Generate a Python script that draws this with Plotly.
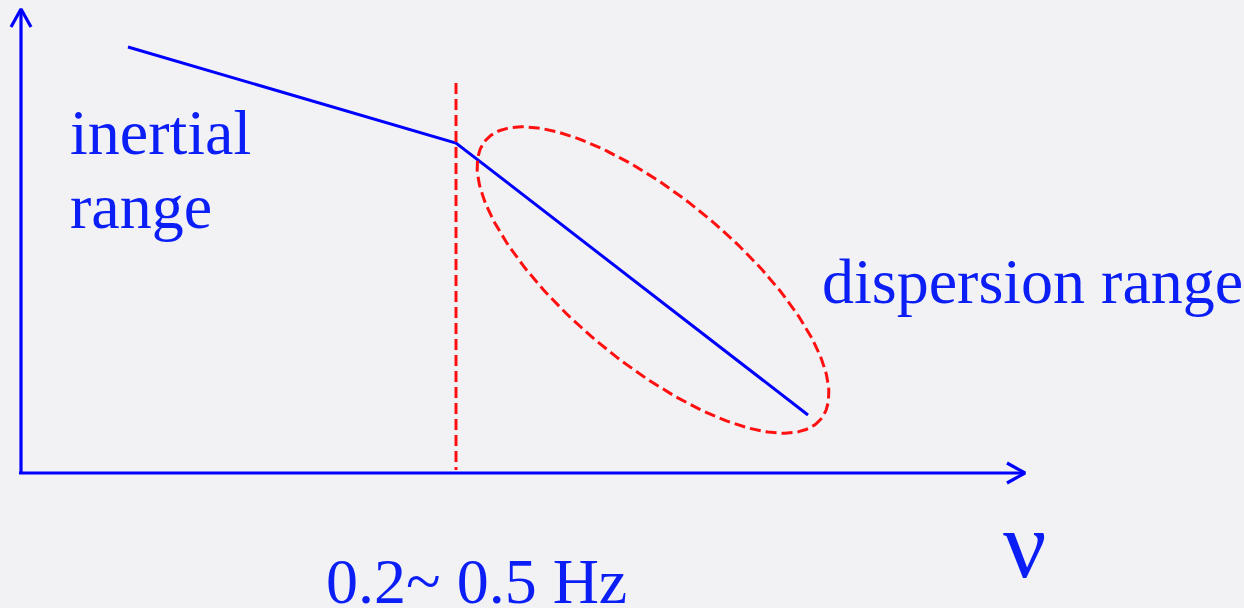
import numpy as np
import plotly.graph_objects as go

W, H = 1244, 608
BLUE = "#0a1ef5"
LINE_BLUE = "#0000ff"
RED = "#ff1010"
BG = "#f2f2f5"
FONT = "Liberation Serif, Times New Roman, serif"

# Power spectrum sketch: inertial range then a steeper dispersion range
spectrum_x = [128, 456, 808]
spectrum_y = [47, 143, 415]

# Break frequency marker
break_x = [456, 456]
break_y = [83, 470]

# Axes with arrow heads (pixel-like coordinates, y grows downward)
yaxis_x = [21, 21]
yaxis_y = [474, 9]
yhead_x = [11, 21, 31]
yhead_y = [27, 9, 27]
xaxis_x = [19, 1025]
xaxis_y = [473, 473]
xhead_x = [1007, 1025, 1007]
xhead_y = [463, 473, 483]

# Ellipse around the dispersion range: centre, semi-axes, tilt (degrees)
ell_center = (653, 280)
ell_axes = (218, 83)
ell_tilt = 39.7

t = np.linspace(0, 2 * np.pi, 241)
th = np.radians(ell_tilt)
ex = ell_center[0] + ell_axes[0] * np.cos(t) * np.cos(th) - ell_axes[1] * np.sin(t) * np.sin(th)
ey = ell_center[1] + ell_axes[0] * np.cos(t) * np.sin(th) + ell_axes[1] * np.sin(t) * np.cos(th)

fig = go.Figure()

def add_line(x, y, color, width, dash="solid"):
    fig.add_trace(go.Scatter(x=x, y=y, mode="lines", hoverinfo="skip",
                             line=dict(color=color, width=width, dash=dash)))

add_line(yaxis_x, yaxis_y, LINE_BLUE, 3.2)
add_line(yhead_x, yhead_y, LINE_BLUE, 3.2)
add_line(xaxis_x, xaxis_y, LINE_BLUE, 3.2)
add_line(xhead_x, xhead_y, LINE_BLUE, 3.2)
add_line(spectrum_x, spectrum_y, LINE_BLUE, 3)
add_line(break_x, break_y, RED, 3, "11px,5px")
add_line(list(ex), list(ey), RED, 3, "11px,5px")

# Labels: (text, left x, centre y, size)
labels = [
    ("inertial", 68, 132, 64),
    ("range", 68, 206, 64),
    ("dispersion range", 820, 281, 64),
    ("0.2~ 0.5 Hz", 324, 581, 64),
    ("ν", 1001, 544, 96),
]
for text, lx, cy, size in labels:
    fig.add_annotation(x=lx, y=cy, text=text, showarrow=False,
                       xanchor="left", yanchor="middle", xref="x", yref="y",
                       font=dict(family=FONT, size=size, color=BLUE))

fig.update_layout(
    width=W, height=H, margin=dict(l=0, r=0, t=0, b=0),
    paper_bgcolor=BG, plot_bgcolor=BG, showlegend=False,
    xaxis=dict(range=[0, W], visible=False, fixedrange=True),
    yaxis=dict(range=[H, 0], visible=False, fixedrange=True),
)

fig.write_html("out.html", config={"displayModeBar": False})
